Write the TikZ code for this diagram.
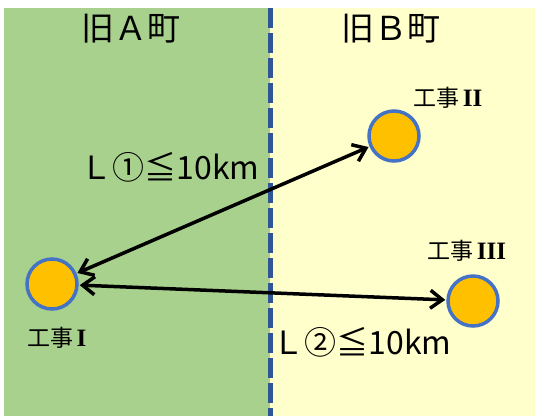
\documentclass[tikz,border=0pt]{standalone}
\usepackage{fontspec}
\setmainfont{Noto Sans CJK JP}
\newfontfamily\numfont{Liberation Serif}
\usetikzlibrary{arrows.meta}
\definecolor{zoneA}{HTML}{A9D18E}
\definecolor{zoneB}{HTML}{FFFFCC}
\definecolor{border}{HTML}{2F5597}
\definecolor{ring}{HTML}{4472C4}
\definecolor{site}{HTML}{FFC000}
\newcommand{\rnum}[1]{\hspace{3pt}{\numfont\bfseries\fontsize{25}{25}\selectfont #1}}
\tikzset{
  sitenode/.style={circle, draw=ring, line width=3.5pt, fill=site, minimum size=50pt, inner sep=0pt},
  sitelabel/.style={font=\fontsize{23}{23}\selectfont, inner sep=0pt},
  townlabel/.style={font=\fontsize{33}{33}\selectfont, inner sep=0pt},
  distlabel/.style={font=\fontsize{32}{32}\selectfont, inner sep=0pt},
  link/.style={line width=3.5pt, {Straight Barb[length=12pt,width=18pt]}-{Straight Barb[length=12pt,width=18pt]}, shorten <=1pt, shorten >=1pt}
}
\begin{document}
\begin{tikzpicture}[x=1pt,y=-1pt]
\useasboundingbox (0,0) rectangle (535,416);
\fill[white] (0,0) rectangle (535,416);
\fill[zoneA] (4,8) rectangle (270,416);
\fill[zoneB] (270,8) rectangle (535,416);
\draw[border, line width=5pt, dash pattern=on 20pt off 5pt] (270,8) -- (270,416);
\node[townlabel] (tA) at (131,29) {旧Ａ町};
\node[townlabel] (tB) at (391,29) {旧Ｂ町};
\node[sitenode] (s1) at (52,284) {};
\node[sitenode] (s2) at (394,136) {};
\node[sitenode] (s3) at (473,301) {};
\node[sitelabel] (l1) at (57,338) {工事\rnum{I}};
\node[sitelabel] (l2) at (448,98) {工事\rnum{II}};
\node[sitelabel] (l3) at (467,251) {工事\rnum{III}};
\node[distlabel] (d1) at (170,167) {Ｌ①≦10km};
\node[distlabel] (d2) at (362,342) {Ｌ②≦10km};
\draw[link] (s1) -- (s2);
\draw[link] (s1) -- (s3);
\end{tikzpicture}
\end{document}
